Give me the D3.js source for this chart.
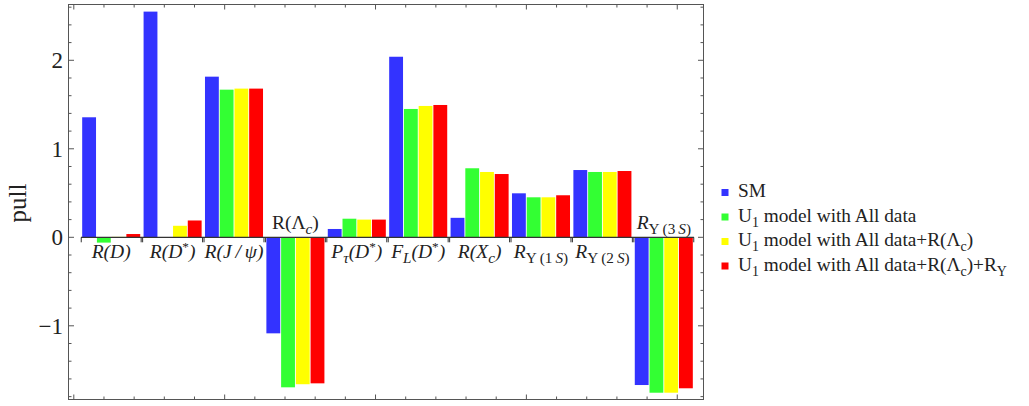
<!DOCTYPE html>
<html>
<head>
<meta charset="utf-8">
<script src="https://cdn.jsdelivr.net/npm/d3@7"></script>
<style>
html,body{margin:0;padding:0;background:#fff;}
svg{display:block;}
text{font-family:"Liberation Serif","DejaVu Serif",serif;fill:#222;}
</style>
</head>
<body>
<svg id="chart" width="1029" height="406"></svg>
<script>
// ---------- data ----------
const categories = ["R(D)","R(D*)","R(J/psi)","R(Lambda_c)","P_tau(D*)","F_L(D*)","R(X_c)","R_Y(1S)","R_Y(2S)","R_Y(3S)"];
const seriesNames = ["SM","U1 model with All data","U1 model with All data+R(Lambda_c)","U1 model with All data+R(Lambda_c)+R_Y"];
const smValues     = [1.356, 2.55, 1.815, -1.085, 0.094, 2.04, 0.22, 0.497, 0.76, -1.669];
const u1All        = [-0.06, 0.0, 1.668, -1.695, 0.21, 1.45, 0.78, 0.452, 0.738, -1.756];
const u1AllLc      = [0.005, 0.13, 1.68, -1.66, 0.2, 1.484, 0.738, 0.452, 0.738, -1.756];
const u1AllLcY     = [0.037, 0.19, 1.68, -1.65, 0.2, 1.495, 0.715, 0.475, 0.749, -1.706];
const seriesColors = ["#3333ff","#33ff33","#ffff00","#ff0000"];
const yMajorTicks = [-1, 0, 1, 2];
const yTickLabels = ["\u22121", "0", "1", "2"];
const yMinorTicks = d3.range(-1.8, 2.61, 0.2).map(v => Math.round(v*10)/10);
const frameXMajor = [0, 5, 10, 15, 20];
const frameXMinor = d3.range(0, 21, 1);
// rich label parts: [text, style]
const categoryLabels = [
  [["R(D)","i"]],
  [["R(D","i"],["*","sup"],[")","i"]],
  [["R(J\u2009/\u2009\u03C8)","i"]],
  [["R(\u039B","r"],["c","subi"],[")","r"]],
  [["P","i"],["\u03C4","subi"],["(D","i"],["*","sup"],[")","i"]],
  [["F","i"],["L","subi"],["(D","i"],["*","sup"],[")","i"]],
  [["R(X","i"],["c","subi"],[")","i"]],
  [["R","i"],["\u03A5\u2009(1\u2009","subr"],["S","subi"],[")","subr"]],
  [["R","i"],["\u03A5\u2009(2\u2009","subr"],["S","subi"],[")","subr"]],
  [["R","i"],["\u03A5\u2009(3\u2009","subr"],["S","subi"],[")","subr"]]
];
const legendLabels = [
  [["SM","r"]],
  [["U","r"],["1","subr"],[" model with All data","r"]],
  [["U","r"],["1","subr"],[" model with All data+R(\u039B","r"],["c","subr"],[")","r"]],
  [["U","r"],["1","subr"],[" model with All data+R(\u039B","r"],["c","subr"],[")+R","r"],["\u03A5","subr"]]
];
const series = [smValues, u1All, u1AllLc, u1AllLcY];

// ---------- layout ----------
const svg = d3.select("#chart");
const frame = {l: 68.5, r: 703.5, t: 4.5, b: 399.5};

const y = d3.scaleLinear().domain([-1.827, 2.636]).range([399, 4]);
const x0 = d3.scaleBand().domain(categories).range([80.5, 694.5]).paddingInner(0.05).paddingOuter(0.025);
const x1 = d3.scaleBand().domain(d3.range(4)).range([0, x0.bandwidth()]).paddingInner(0.06).paddingOuter(0.01);
const xf = d3.scaleLinear().domain([-0.176, 20.87]).range([frame.l, frame.r]);

function rich(sel, parts, size, subScale) {
  let shift = 0;
  parts.forEach(([t, st]) => {
    let target = 0, fs = size, italic = false;
    if (st === "i") italic = true;
    if (st === "subi" || st === "subr") { target = size*0.28; fs = size*subScale; italic = st === "subi"; }
    if (st === "sup") { target = -size*0.36; fs = size*0.68; italic = false; }
    sel.append("tspan")
      .attr("dy", (target - shift).toFixed(2))
      .attr("font-size", fs)
      .attr("font-style", italic ? "italic" : "normal")
      .text(t);
    shift = target;
  });
}

// bars
const g = svg.append("g");
categories.forEach((c, ci) => {
  series.forEach((s, si) => {
    const v = s[ci];
    const y0 = y(0), yv = y(v);
    g.append("rect")
      .attr("x", x0(c) + x1(si))
      .attr("y", Math.min(y0, yv))
      .attr("width", x1.bandwidth())
      .attr("height", Math.max(0, Math.abs(yv - y0)))
      .attr("fill", seriesColors[si]);
  });
});

// zero axis with category separators
const axisCol = "#333";
const first = x0(categories[0]), lastC = categories[categories.length-1];
const last = x0(lastC) + x0.bandwidth();
svg.append("line").attr("x1", first - 1).attr("x2", last + 1)
  .attr("y1", y(0)).attr("y2", y(0)).attr("stroke", axisCol).attr("stroke-width", 1.3);
categories.forEach(c => {
  [x0(c) - 0.8, x0(c) + x0.bandwidth() + 0.8].forEach(px => {
    svg.append("line").attr("x1", px).attr("x2", px)
      .attr("y1", y(0)).attr("y2", y(0) + 5)
      .attr("stroke", axisCol).attr("stroke-width", 1);
  });
});

// category labels
categories.forEach((c, ci) => {
  const neg = smValues[ci] < 0;
  const t = svg.append("text")
    .attr("x", x0(c) + x0.bandwidth()/2)
    .attr("y", neg ? 228.5 : 258)
    .attr("text-anchor", "middle")
    .attr("font-size", 19.5);
  rich(t, categoryLabels[ci], 19.5, 0.78);
});

// frame
const fc = "#555";
svg.append("rect").attr("x", frame.l).attr("y", frame.t)
  .attr("width", frame.r - frame.l).attr("height", frame.b - frame.t)
  .attr("fill", "none").attr("stroke", fc).attr("stroke-width", 1);

// y ticks
yMinorTicks.forEach(v => {
  const major = yMajorTicks.some(m => Math.abs(m - v) < 1e-6);
  const len = major ? 5.5 : 3;
  svg.append("line").attr("x1", frame.l).attr("x2", frame.l + len)
    .attr("y1", y(v)).attr("y2", y(v)).attr("stroke", fc);
  svg.append("line").attr("x1", frame.r).attr("x2", frame.r - len)
    .attr("y1", y(v)).attr("y2", y(v)).attr("stroke", fc);
});
yMajorTicks.forEach((v, i) => {
  svg.append("text").attr("x", 63).attr("y", y(v) + 8)
    .attr("text-anchor", "end").attr("font-size", 23).text(yTickLabels[i]);
});

// x frame ticks (top & bottom)
frameXMinor.forEach(v => {
  const major = frameXMajor.includes(v);
  const len = major ? 5 : 3;
  svg.append("line").attr("x1", xf(v)).attr("x2", xf(v))
    .attr("y1", frame.b).attr("y2", frame.b - len).attr("stroke", fc);
  svg.append("line").attr("x1", xf(v)).attr("x2", xf(v))
    .attr("y1", frame.t).attr("y2", frame.t + len).attr("stroke", fc);
});

// y axis title
svg.append("text").attr("transform", "translate(26,203) rotate(-90)")
  .attr("text-anchor", "middle").attr("font-size", 25).text("pull");

// legend
const legY = [197, 221.5, 246, 270.5];
seriesNames.forEach((n, i) => {
  svg.append("rect").attr("x", 721.5).attr("y", legY[i] - 8).attr("width", 7).attr("height", 7)
    .attr("fill", seriesColors[i]);
  const t = svg.append("text").attr("x", 738).attr("y", legY[i]).attr("font-size", 19.3);
  rich(t, legendLabels[i], 19.3, 0.72);
});
</script>
</body>
</html>
